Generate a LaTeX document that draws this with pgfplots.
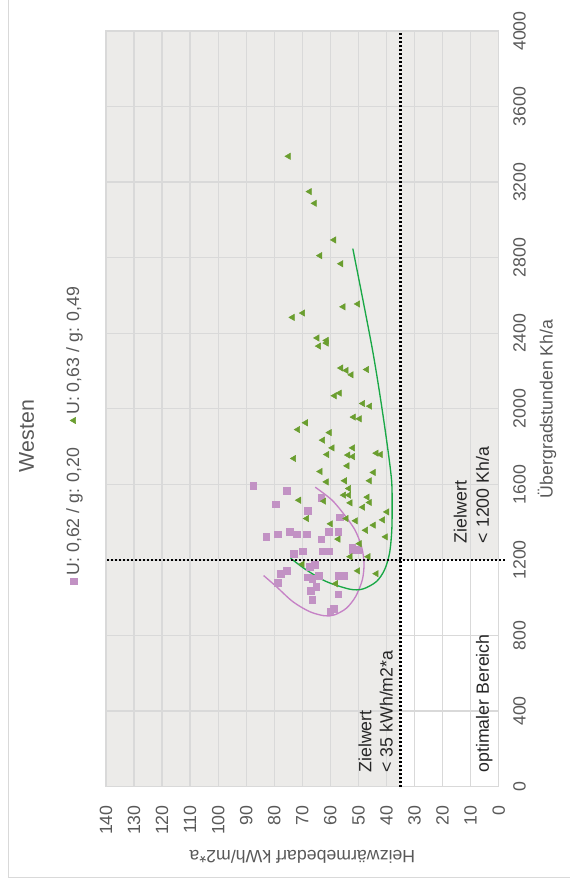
\documentclass[border=0pt]{standalone}
\usepackage{pgfplots}
\pgfplotsset{compat=1.18}
\usepackage{fontspec}
\setmainfont{Liberation Sans}
\definecolor{plotbg}{RGB}{236,235,233}
\definecolor{gridgray}{RGB}{217,217,217}
\definecolor{txtgray}{RGB}{89,89,89}
\definecolor{pinkmark}{RGB}{194,146,196}
\definecolor{greenmark}{RGB}{106,158,47}
\definecolor{greenline}{RGB}{25,168,70}
\definecolor{pinkline}{RGB}{198,130,198}
\newcommand{\lbl}{\fontsize{13.3}{16}\selectfont}
\begin{document}
\begin{tikzpicture}
\begin{pgflowlevelscope}{\pgftransformrotate{90}}
\begin{axis}[
  at={(76.1pt,53.5pt)}, anchor=south west,
  scale only axis, width=566.6pt, height=294.5pt,
  xmin=0, xmax=4000, ymin=0, ymax=140,
  xtick={0,400,...,4000}, ytick={0,10,...,140},
  axis background/.style={fill=plotbg},
  grid=major, major grid style={gridgray, line width=1pt},
  axis line style={gridgray, line width=1pt},
  major tick length=0pt,
  tick label style={inner sep=0pt, font=\lbl, text=txtgray},
  xticklabel style={yshift=-10.7pt},
  yticklabel style={xshift=-13.9pt},
  /pgf/number format/assume math mode=true,
  /pgf/number format/1000 sep={},
  xlabel={Übergradstunden Kh/a},
  ylabel={Heizwärmebedarf kWh/m2*a},
  label style={font=\lbl, text=txtgray},
  xlabel style={at={(axis description cs:0.5,-0.123)}, anchor=center},
  ylabel style={at={(axis description cs:-0.0933,0.5)}, anchor=center},
  title={Westen},
  title style={at={(axis description cs:0.4639,1.1819)}, anchor=center, font=\fontsize{16}{19}\selectfont, text=txtgray},
  legend style={at={(axis description cs:0.466,1.082)}, anchor=center, draw=none, fill=none, font=\lbl, text=txtgray, legend columns=2, /tikz/every even column/.append style={column sep=16pt}},
  legend image code/.code={\draw[#1, mark repeat=2, mark phase=2] plot coordinates {(-0.14cm,0cm) (0cm,0cm) (0.14cm,0cm)};},
  clip=false,
]
\fill[white] (axis cs:0,0) rectangle (axis cs:1200,35);
\draw[gridgray, line width=1pt] (axis cs:400,0) -- (axis cs:400,35);
\draw[gridgray, line width=1pt] (axis cs:800,0) -- (axis cs:800,35);
\draw[gridgray, line width=1pt] (axis cs:0,10) -- (axis cs:1200,10);
\draw[gridgray, line width=1pt] (axis cs:0,20) -- (axis cs:1200,20);
\draw[gridgray, line width=1pt] (axis cs:0,30) -- (axis cs:1200,30);
\draw[gridgray, line width=1pt] (axis cs:0,0) -- (axis cs:1200,0);
\draw[gridgray, line width=1pt] (axis cs:0,0) -- (axis cs:0,35);

\addplot[only marks, mark=square*, mark size=2.5pt, mark options={fill=pinkmark, draw=pinkmark}] table {
x y
1592 87.5
1566 75.5
1495 79.5
1530 63.2
1461 68.0
1426 56.7
1322 82.8
1336 78.7
1350 74.5
1336 72.1
1336 68.5
1350 60.5
1350 57.2
1310 63.2
1232 73.1
1246 69.8
1246 62.7
1246 60.5
1265 52.2
1253 52.1
1253 50.2
1165 67.4
1175 65.6
1142 75.5
1127 77.7
1108 68.0
1101 66.4
1115 64.2
1115 57.0
1115 55.2
1080 78.7
1059 65.0
1037 67.0
1018 57.2
988 66.4
942 58.7
928 60.0
};
\addlegendentry{U: 0,62 / g: 0,20}

\addplot[only marks, mark=triangle*, mark size=2.7pt, mark options={fill=greenmark, draw=greenmark}] table {
x y
3337 74.9
3150 67.4
3088 65.6
2894 58.7
2811 63.7
2768 56.2
2555 50.2
2540 55.4
2507 69.8
2484 73.5
2375 64.7
2362 61.4
2348 61.4
2332 64.1
2216 56.2
2203 54.3
2180 52.5
2208 47.0
2069 58.5
2083 56.7
2028 48.4
2014 45.9
1956 51.7
1947 49.6
1926 68.8
1890 71.6
1874 60.3
1834 62.7
1793 59.3
1793 52.0
1758 61.2
1755 53.7
1747 52.0
1765 43.6
1758 42.1
1737 73.0
1698 54.0
1668 63.6
1663 44.6
1619 54.9
1619 46.0
1613 61.4
1578 53.4
1543 55.2
1543 53.4
1532 46.8
1516 71.2
1511 62.3
1502 52.9
1504 46.0
1479 48.4
1454 39.8
1419 68.4
1419 54.3
1407 51.0
1412 41.3
1391 59.9
1384 44.6
1357 47.4
1322 40.3
1310 57.2
1286 49.6
1217 52.9
1217 46.5
1177 70.0
1142 50.2
1127 43.6
1074 58.1
};
\addlegendentry{U: 0,63 / g: 0,49}

\addplot[pinkline, line width=1pt, smooth, forget plot] coordinates {
(1585,65.4) (1519,59.6) (1448,55.5) (1360,51.3) (1271,48.9) (1183,48.0) (1095,48.6) (1006,51.0) (944,54.3) (909,58.5) (904,62.1) (926,67.4) (979,73.4) (1059,79.3) (1117,83.8)
};
\addplot[greenline, line width=1pt, smooth, forget plot] coordinates {
(2848,52.0) (2313,45.0) (1942,41.0) (1641,38.3) (1500,38.0) (1359,38.1) (1236,38.9) (1147,40.7) (1085,43.6) (1046,48.4) (1045,53.1) (1085,61.4) (1147,68.6) (1209,74.2)
};

\addplot[black, line width=2pt, dash pattern=on 1.5pt off 1.5pt, forget plot] coordinates {(0,35) (4000,35)};
\addplot[black, line width=2pt, dash pattern=on 1.5pt off 1.5pt, forget plot] coordinates {(1200,-2.3) (1200,140)};

\node[anchor=base west, font=\lbl, text=black!85] at (axis cs:50,45.4) {Zielwert};
\node[anchor=base west, font=\lbl, text=black!85] at (axis cs:50,37.8) {< 35 kWh/m2*a};
\node[anchor=base west, font=\lbl, text=black!85] at (axis cs:50,3.5) {optimaler Bereich};
\node[anchor=base west, font=\lbl, text=black!85] at (axis cs:1264,11.4) {Zielwert};
\node[anchor=base west, font=\lbl, text=black!85] at (axis cs:1264,3.5) {< 1200 Kh/a};
\end{axis}
\draw[gridgray, line width=0.75pt] (7.7pt,-20pt) rectangle (700pt,421.3pt);
\end{pgflowlevelscope}
\pgfresetboundingbox
\path[use as bounding box] (-427.5pt,0pt) rectangle (0pt,666pt);
\end{tikzpicture}
\end{document}
